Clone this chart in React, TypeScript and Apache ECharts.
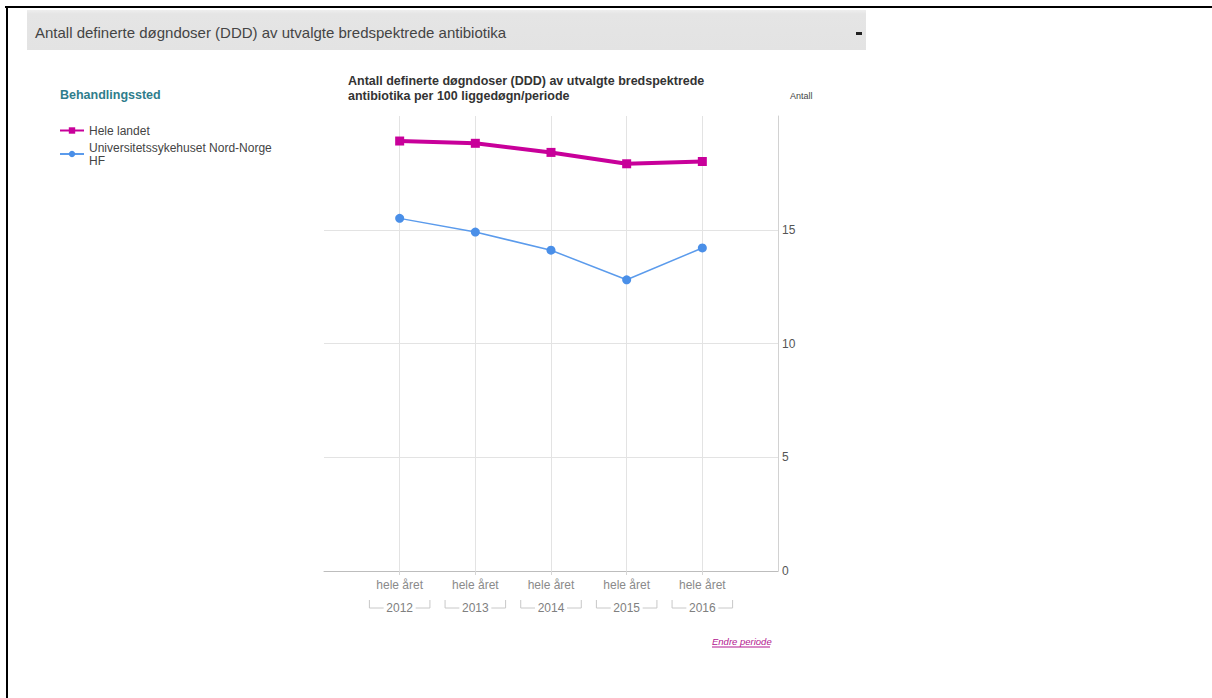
import React, { useEffect, useRef } from "react";
import * as echarts from "echarts";

// Periods and values (DDD per 100 liggedøgn)
const periods = ["2012", "2013", "2014", "2015", "2016"];
const periodLabel = "hele året";
const heleLandet = [18.9, 18.8, 18.4, 17.9, 18.0];
const unnHF = [15.5, 14.9, 14.1, 12.8, 14.2];
const seriesNames = ["Hele landet", "Universitetssykehuset Nord-Norge\nHF"];
const yMax = 20;
const yStep = 5;

const FONT = "'Liberation Sans', Arial, Helvetica, sans-serif";

export default function App() {
  const ref = useRef<HTMLDivElement>(null);

  useEffect(() => {
    if (!ref.current) return;
    const chart = echarts.init(ref.current, undefined, { renderer: "svg" });

    // pad one empty slot on each side so the points sit inside the plot
    const cats = ["", ...periods, ""];
    const pad = (arr: number[]) => ["-", ...arr, "-"];
    const inner = (i: number) => i >= 1 && i <= periods.length;
    const grid = "#e3e3e3";

    chart.setOption({
      animation: false,
      backgroundColor: "#ffffff",
      textStyle: { fontFamily: FONT },
      title: [
        {
          text: "Behandlingssted",
          left: 60,
          top: 88,
          padding: 0,
          textStyle: { fontSize: 12.5, fontWeight: "bold", color: "#2f7d8c", fontFamily: FONT },
        },
        {
          text: "Antall definerte døgndoser (DDD) av utvalgte bredspektrede\nantibiotika per 100 liggedøgn/periode",
          left: 348,
          top: 73,
          padding: 0,
          textStyle: { fontSize: 12.5, fontWeight: "bold", color: "#333", lineHeight: 15, fontFamily: FONT },
        },
      ],
      legend: {
        orient: "vertical",
        left: 59,
        top: 124,
        padding: 0,
        itemWidth: 24,
        itemHeight: 8,
        itemGap: 4,
        textStyle: { fontSize: 12, color: "#444", lineHeight: 13, fontFamily: FONT },
        data: seriesNames,
      },
      grid: { left: 324, right: 434, top: 116, bottom: 127, outerBoundsMode: "none" },
      xAxis: {
        type: "category",
        data: cats,
        boundaryGap: false,
        axisLine: { show: true, lineStyle: { color: "#bdbdbd", width: 1 } },
        axisTick: { show: true, length: 4, interval: (i: number) => inner(i), lineStyle: { color: "#d6d6d6" } },
        splitLine: { show: true, interval: (i: number) => inner(i), lineStyle: { color: grid, width: 1 } },
        axisLabel: {
          interval: (i: number) => inner(i),
          margin: 4,
          formatter: (v: string) => (v ? `{h|${periodLabel}}\n{y|${v}}` : ""),
          rich: {
            h: { fontSize: 12, color: "#8a8a8a", lineHeight: 20, fontFamily: FONT },
            y: { fontSize: 12, color: "#808080", lineHeight: 26, fontFamily: FONT },
          },
        },
      },
      yAxis: {
        type: "value",
        position: "right",
        min: 0,
        max: yMax,
        interval: yStep,
        axisLine: { show: true, lineStyle: { color: "#d2d2d2" } },
        axisTick: { show: false },
        axisLabel: {
          margin: 4,
          fontSize: 12,
          color: "#555",
          fontFamily: FONT,
          formatter: (v: number) => (v >= yMax ? "" : String(v)),
        },
        splitLine: {
          show: true,
          lineStyle: { color: [grid, grid, grid, grid, "rgba(0,0,0,0)"], width: 1 },
        },
      },
      series: [
        {
          name: seriesNames[0],
          type: "line",
          data: pad(heleLandet),
          symbol: "rect",
          symbolSize: 9,
          lineStyle: { width: 4, color: "#c8009a" },
          itemStyle: { color: "#c8009a" },
          z: 3,
        },
        {
          name: seriesNames[1],
          type: "line",
          data: pad(unnHF),
          symbol: "circle",
          symbolSize: 9,
          lineStyle: { width: 1.5, color: "#5b9bec" },
          itemStyle: { color: "#4a8fe8" },
          z: 2,
        },
      ],
      graphic: {
        elements: [
          {
            id: "hdr",
            type: "rect",
            shape: { x: 27, y: 10, width: 839, height: 40 },
            style: {
              fill: new echarts.graphic.LinearGradient(0, 0, 0, 1, [
                { offset: 0, color: "#eeeeee" },
                { offset: 0.1, color: "#e5e5e5" },
                { offset: 1, color: "#e3e3e3" },
              ]),
            },
            silent: true,
          },
          {
            id: "hdrText",
            type: "text",
            x: 35,
            y: 32,
            style: {
              text: "Antall definerte døgndoser (DDD) av utvalgte bredspektrede antibiotika",
              fontSize: 15,
              fontFamily: FONT,
              fill: "#444",
              verticalAlign: "middle",
            },
          },
          {
            id: "hdrDash",
            type: "rect",
            shape: { x: 856, y: 32, width: 6, height: 3 },
            style: { fill: "#222" },
          },
          {
            id: "frameTop",
            type: "line",
            shape: { x1: 5, y1: 7, x2: 1212, y2: 7 },
            style: { stroke: "#000", lineWidth: 2 },
          },
          {
            id: "frameLeft",
            type: "line",
            shape: { x1: 7, y1: 6, x2: 7, y2: 698 },
            style: { stroke: "#000", lineWidth: 2 },
          },
          {
            id: "unit",
            type: "text",
            x: 790,
            y: 96,
            style: { text: "Antall", fontSize: 9, fontFamily: FONT, fill: "#444", verticalAlign: "middle" },
          },
          {
            id: "link",
            type: "text",
            x: 712,
            y: 641,
            style: {
              text: "Endre periode",
              fontSize: 9.5,
              fontStyle: "italic",
              fontFamily: FONT,
              fill: "#b3168f",
              verticalAlign: "middle",
            },
          },
          {
            id: "linkLine",
            type: "line",
            shape: { x1: 712, y1: 647, x2: 770, y2: 647 },
            style: { stroke: "#b3168f", lineWidth: 1 },
          },
        ],
      },
    });

    // year brackets below the period labels, placed from the category scale
    const x0 = chart.convertToPixel({ xAxisIndex: 0 }, 1) as number;
    const x1 = chart.convertToPixel({ xAxisIndex: 0 }, 2) as number;
    const half = (x1 - x0) * 0.4;
    const yTop = 600;
    const yMid = 608;
    const gap = 16;
    const brackets: any[] = [];
    periods.forEach((_, i) => {
      const cx = chart.convertToPixel({ xAxisIndex: 0 }, i + 1) as number;
      brackets.push(
        {
          id: `bl${i}`,
          type: "polyline",
          shape: { points: [[cx - half, yTop], [cx - half, yMid], [cx - gap, yMid]] },
          style: { stroke: "#c8c8c8", lineWidth: 1, fill: "none" },
        },
        {
          id: `br${i}`,
          type: "polyline",
          shape: { points: [[cx + gap, yMid], [cx + half, yMid], [cx + half, yTop]] },
          style: { stroke: "#c8c8c8", lineWidth: 1, fill: "none" },
        }
      );
    });
    chart.setOption({ graphic: { elements: brackets } });

    return () => chart.dispose();
  }, []);

  return (
    <div
      ref={ref}
      style={{ position: "absolute", left: 0, top: 0, width: 1212, height: 698, background: "#fff" }}
    />
  );
}
